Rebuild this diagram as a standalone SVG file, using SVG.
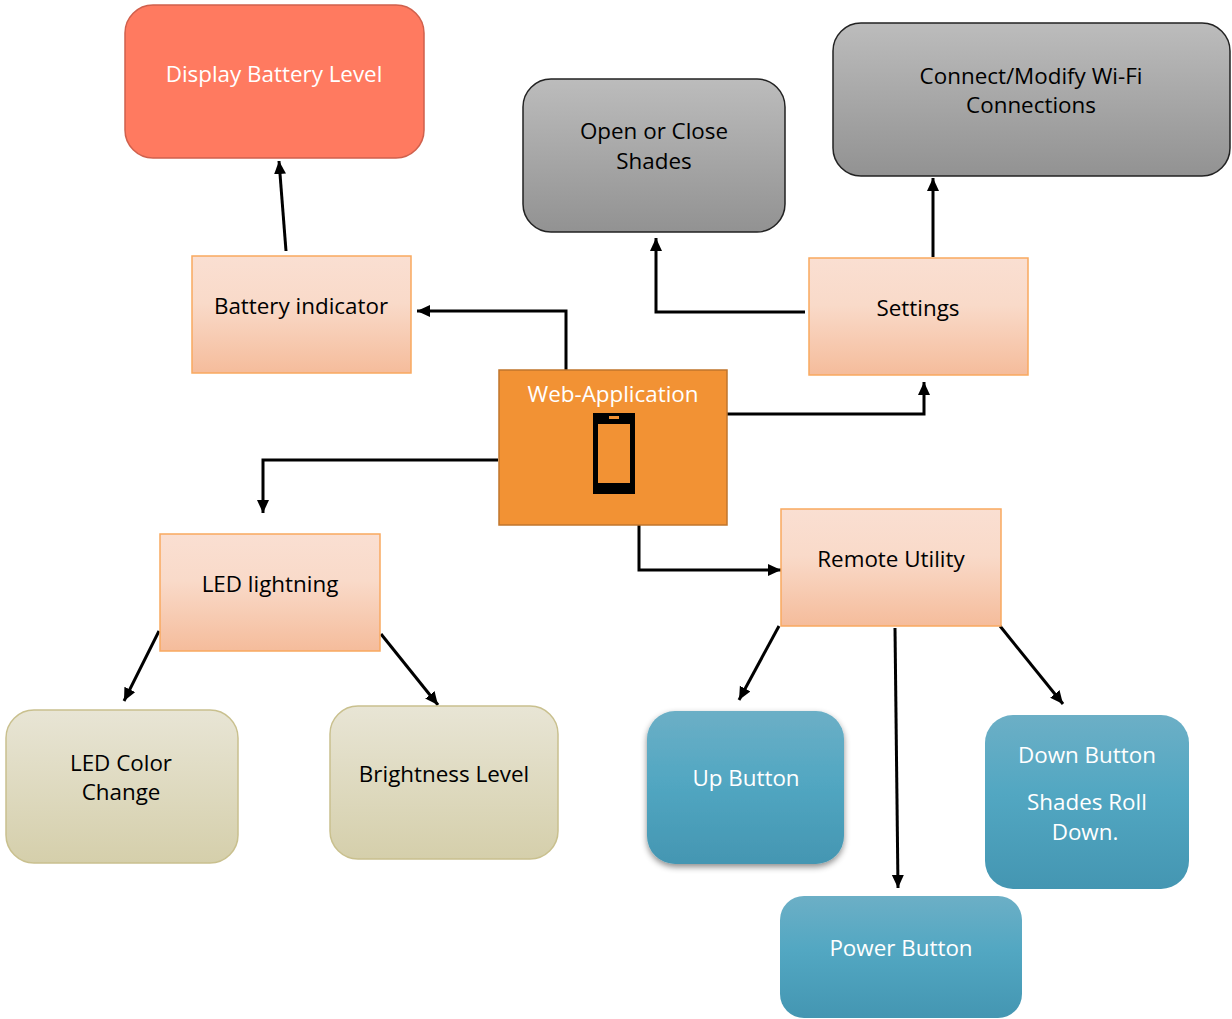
<svg xmlns="http://www.w3.org/2000/svg" width="1232" height="1019" viewBox="0 0 1232 1019">
<defs>
<linearGradient id="gG" x1="0" y1="0" x2="0" y2="1"><stop offset="0" stop-color="#bcbcbc"/><stop offset="1" stop-color="#929292"/></linearGradient>
<linearGradient id="gP" x1="0" y1="0" x2="0" y2="1"><stop offset="0" stop-color="#fadfd2"/><stop offset="0.4" stop-color="#f9dac9"/><stop offset="1" stop-color="#f5bc9b"/></linearGradient>
<linearGradient id="gT" x1="0" y1="0" x2="0" y2="1"><stop offset="0" stop-color="#e8e5d5"/><stop offset="1" stop-color="#d5cfab"/></linearGradient>
<linearGradient id="gB" x1="0" y1="0" x2="0" y2="1"><stop offset="0" stop-color="#6cafc6"/><stop offset="0.45" stop-color="#52a7c2"/><stop offset="1" stop-color="#4496b2"/></linearGradient>
<filter id="sh" x="-10%" y="-10%" width="120%" height="125%"><feDropShadow dx="0" dy="3" stdDeviation="3" flood-color="#000" flood-opacity="0.45"/></filter>
<marker id="ah" markerWidth="14" markerHeight="13" refX="13" refY="6" orient="auto" markerUnits="userSpaceOnUse"><path d="M0 0L13 6L0 12Z" fill="#000"/></marker>
</defs>
<style>
text{font-family:"Open Sans","DejaVu Sans",sans-serif;font-size:22.4px;text-anchor:middle;fill:#000}
text.w{fill:#fff}
.c path{fill:none;stroke:#000;stroke-width:3;marker-end:url(#ah)}
.p{fill:url(#gP);stroke:#f9a95f;stroke-width:1.5}
.g{fill:url(#gG);stroke:#222;stroke-width:1.5}
.t{fill:url(#gT);stroke:#c9c08e;stroke-width:1.5}
.b{fill:url(#gB)}
</style>
<g id="connectors" class="c">
<path d="M286 251L279 161"/>
<path d="M566 370V311H417"/>
<path d="M805 312H656V238"/>
<path d="M933 257V178"/>
<path d="M727 414H924V382"/>
<path d="M498 460H263V513"/>
<path d="M639 525V570H781"/>
<path d="M159 631L124 701"/>
<path d="M381 634L438 705"/>
<path d="M779 626L739 700"/>
<path d="M895 628L898 888"/>
<path d="M1000 626L1063 704"/>
</g>
<g id="display-battery"><rect x="125" y="5" width="299" height="153" rx="28" fill="#ff7a60" stroke="#d0604c" stroke-width="1.5"/><text class="w" x="274" y="82">Display Battery Level</text></g>
<g id="open-close"><rect x="523" y="79" width="262" height="153" rx="28" class="g"/><text x="654" y="139">Open or Close</text><text x="654" y="169">Shades</text></g>
<g id="wifi"><rect x="833" y="23" width="397" height="153" rx="28" class="g"/><text x="1031" y="84">Connect/Modify Wi-Fi</text><text x="1031" y="113">Connections</text></g>
<g id="battery-indicator"><rect x="192" y="256" width="219" height="117" class="p"/><text x="301" y="314">Battery indicator</text></g>
<g id="settings"><rect x="809" y="258" width="219" height="117" class="p"/><text x="918" y="316">Settings</text></g>
<g id="web-app"><rect x="499" y="370" width="228" height="155" fill="#f29234" stroke="#c0752c" stroke-width="1.5"/><text class="w" x="613" y="402">Web-Application</text><rect x="593" y="413" width="42" height="81" fill="#000"/><rect x="598" y="424" width="32" height="59" fill="#f29234"/><rect x="609" y="416" width="10" height="3" fill="#f29234"/></g>
<g id="led"><rect x="160" y="534" width="220" height="117" class="p"/><text x="270" y="592">LED lightning</text></g>
<g id="remote"><rect x="781" y="509" width="220" height="117" class="p"/><text x="891" y="567">Remote Utility</text></g>
<g id="led-color"><rect x="6" y="710" width="232" height="153" rx="28" class="t"/><text x="121" y="771">LED Color</text><text x="121" y="800">Change</text></g>
<g id="brightness"><rect x="330" y="706" width="228" height="153" rx="28" class="t"/><text x="444" y="782">Brightness Level</text></g>
<g id="up"><rect x="647" y="711" width="197" height="153" rx="28" class="b" filter="url(#sh)"/><text class="w" x="746" y="786">Up Button</text></g>
<g id="down"><rect x="985" y="715" width="204" height="174" rx="28" class="b"/><text class="w" x="1087" y="763">Down Button</text><text class="w" x="1087" y="810">Shades Roll</text><text class="w" x="1085" y="840">Down.</text></g>
<g id="power"><rect x="780" y="896" width="242" height="122" rx="24" class="b"/><text class="w" x="901" y="956">Power Button</text></g>
</svg>
